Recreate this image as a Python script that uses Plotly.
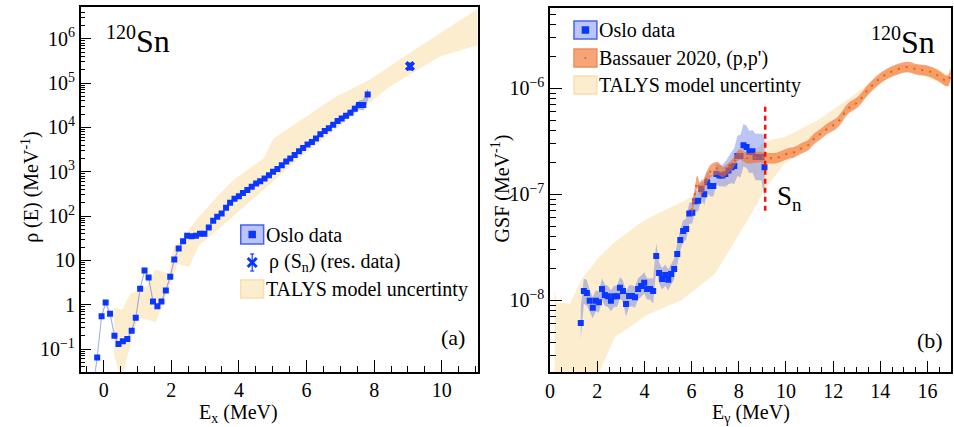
import plotly.graph_objects as go

# ---------------- Left panel: level density ----------------
rho_E = [-0.32, -0.19, -0.06, 0.06, 0.19, 0.32, 0.44, 0.57, 0.70, 0.83, 0.95,
         1.08, 1.21, 1.33, 1.46, 1.59, 1.71, 1.84, 1.97, 2.09, 2.22,
         2.35, 2.47, 2.60, 2.73, 2.85, 2.98, 3.11, 3.24, 3.36, 3.49,
         3.62, 3.74, 3.87, 4.00, 4.12, 4.25, 4.38, 4.51, 4.63, 4.76,
         4.89, 5.01, 5.14, 5.27, 5.40, 5.52, 5.65, 5.78, 5.90, 6.03,
         6.16, 6.28, 6.41, 6.54, 6.66, 6.79, 6.92, 7.04, 7.17, 7.30,
         7.43, 7.55, 7.68, 7.81]
rho_val = [0.012, 0.065, 0.55, 1.12, 0.63, 0.20, 0.13, 0.15, 0.17, 0.26, 0.51,
           2.3, 5.9, 4.1, 1.19, 0.92, 1.19, 2.1, 4.3, 10.5, 18.5,
           27, 36, 35, 36, 40, 40, 55, 78, 97, 114,
           155, 200, 247, 280, 330, 390, 460, 540, 610, 700,
           830, 1000, 1150, 1400, 1700, 2000, 2400, 2900, 3450, 4100,
           4700, 5600, 7000, 8300, 9600, 11500, 14000, 15800, 18300, 21500,
           26500, 32000, 32000, 55000]
rho_err_dex = [0.02] * 51 + \
              [0.025, 0.025, 0.03, 0.03, 0.03, 0.035, 0.04, 0.045, 0.05, 0.06,
               0.07, 0.09, 0.12, 0.12]

rhoSn_E = [9.06]
rhoSn_val = [2.4e5]
rhoSn_err = [4.0e4]

talysL_up_E = [0.31, 0.55, 0.79, 1.04, 1.28, 1.53, 1.92, 2.07, 2.26, 2.78, 3.36,
               3.85, 4.74, 5.02, 6.79, 7.87, 9.93, 11.05]
talysL_up = [0.85, 0.78, 1.8, 2.2, 2.6, 6.2, 5.1, 20, 27, 89, 275,
             660, 2040, 5600, 45700, 1.2e5, 1.32e6, 4.6e6]
talysL_lo_E = [0.31, 0.52, 0.81, 1.01, 1.55, 1.89, 2.19, 2.53, 2.82, 3.46,
               5.91, 8.46, 9.93, 10.9, 11.05]
talysL_lo = [0.072, 0.02, 0.13, 0.52, 0.41, 2.1, 8.3, 7.1, 22, 56,
             2400, 83000, 3.9e5, 6.6e5, 7.0e5]

# ---------------- Right panel: gamma strength ----------------
gsf_E = [1.30, 1.43, 1.56, 1.68, 1.81, 1.94, 2.07, 2.20, 2.32, 2.45,
         2.58, 2.71, 2.84, 2.96, 3.09, 3.22, 3.35, 3.47, 3.60, 3.73,
         3.86, 3.99, 4.11, 4.24, 4.37, 4.50, 4.62, 4.75, 4.88, 5.01,
         5.13, 5.26, 5.39, 5.52, 5.64, 5.77, 5.90, 6.03, 6.15, 6.28,
         6.41, 6.54, 6.66, 6.79, 6.92, 7.05, 7.18, 7.30, 7.43, 7.56,
         7.69, 7.81, 7.94, 8.07, 8.20, 8.33, 8.45, 8.58, 8.71, 8.84,
         8.96, 9.09]
gsf_val = [6.1e-9, 1.22e-8, 1.17e-8, 9.9e-9, 8.5e-9, 9.9e-9, 9.6e-9, 1.28e-8, 1.12e-8, 1.09e-8,
           9.9e-9, 1.09e-8, 1.09e-8, 1.31e-8, 1.22e-8, 9.2e-9, 1.1e-8, 1.1e-8, 1.07e-8, 1.28e-8,
           1.36e-8, 1.46e-8, 1.28e-8, 1.28e-8, 1.22e-8, 2.62e-8, 1.81e-8, 1.59e-8, 1.73e-8, 1.56e-8,
           1.77e-8, 1.97e-8, 2.73e-8, 3.71e-8, 4.5e-8, 4.7e-8, 6.6e-8, 6.7e-8, 8.6e-8, 8.7e-8,
           1.12e-7, 1.0e-7, 1.3e-7, 1.2e-7, 1.2e-7, 1.55e-7, 1.5e-7, 1.5e-7, 1.55e-7, 1.68e-7,
           1.8e-7, 1.85e-7, 2.3e-7, 2.3e-7, 2.9e-7, 2.8e-7, 2.5e-7, 2.55e-7, 2.25e-7, 2.25e-7,
           2.25e-7, 1.8e-7]
gsf_err_dex = [0.15, 0.12, 0.12, 0.1, 0.1, 0.1, 0.1, 0.1, 0.1, 0.1,
               0.1, 0.1, 0.1, 0.1, 0.1, 0.12, 0.1, 0.1, 0.1, 0.1,
               0.1, 0.1, 0.1, 0.1, 0.12, 0.12, 0.1, 0.1, 0.1, 0.1,
               0.1, 0.1, 0.1, 0.1, 0.1, 0.1, 0.1, 0.1, 0.1, 0.1,
               0.1, 0.1, 0.1, 0.1, 0.1, 0.1, 0.1, 0.1, 0.12, 0.13,
               0.15, 0.17, 0.19, 0.2, 0.2, 0.2, 0.2, 0.2, 0.22, 0.22,
               0.22, 0.3]

bass_E = [6.00, 6.12, 6.24, 6.36, 6.48, 6.62, 6.84, 7.12, 7.33, 7.54,
          7.75, 8.03, 8.32, 8.60, 8.88, 9.16, 9.59, 10.08, 10.36, 10.64,
          10.93, 11.20, 11.49, 11.77, 12.20, 12.62, 13.04, 13.46, 13.89, 14.31,
          14.73, 15.15, 15.58, 16.00, 16.42, 16.85, 16.97]
bass_val = [7.0e-8, 9.5e-8, 1.3e-7, 1.12e-7, 1.18e-7, 1.4e-7, 1.68e-7, 1.75e-7, 1.62e-7, 1.75e-7,
            1.95e-7, 2.37e-7, 2.2e-7, 2.2e-7, 2.25e-7, 2.2e-7, 2.2e-7, 2.42e-7, 2.5e-7, 2.7e-7,
            2.9e-7, 3.35e-7, 3.73e-7, 4.17e-7, 4.8e-7, 6.4e-7, 7.4e-7, 9.6e-7, 1.19e-6, 1.38e-6,
            1.51e-6, 1.59e-6, 1.5e-6, 1.46e-6, 1.33e-6, 1.17e-6, 1.35e-6]
bass_err_dex = [0.06] * 8 + [0.05] * 29

talysR_up_E = [0.19, 0.30, 0.85, 1.34, 2.10, 2.75, 3.74, 4.20, 5.70, 7.00, 8.50,
               9.10, 9.94, 11.35, 12.76, 14.17, 14.73, 15.50, 16.42, 17.00]
talysR_up = [1.26e-8, 9.5e-9, 9.3e-9, 1.58e-8, 2.6e-8, 3.55e-8, 5.2e-8, 6.0e-8, 8.7e-8, 1.32e-7, 2.4e-7,
             3.16e-7, 3.47e-7, 5.0e-7, 8.3e-7, 1.43e-6, 1.66e-6, 1.66e-6, 1.55e-6, 1.29e-6]
talysR_lo_E = [0.19, 2.05, 2.75, 4.16, 5.57, 6.98, 8.53, 9.09, 9.94, 11.35,
               12.76, 14.17, 14.90, 15.58, 17.00]
talysR_lo = [1.0e-9, 2.0e-9, 4.5e-9, 7.4e-9, 1.0e-8, 1.76e-8, 6.5e-8, 1.1e-7, 1.95e-7, 3.47e-7,
             6.2e-7, 1.19e-6, 1.43e-6, 1.38e-6, 1.02e-6]

sn_E = 9.12
sn_line_y = [7.0e-8, 6.7e-7]

# legend labels
legL_labels = ["Oslo data", "ρ (S<sub>n</sub>) (res. data)", "TALYS model uncertinty"]
legR_labels = ["Oslo data", "Bassauer 2020, (p,p')", "TALYS model uncertinty"]

# ---------------- styling ----------------
FONT = "Liberation Serif, Times New Roman, Times, serif"
FS = 20
BLUE = "rgb(10,55,255)"
BAND_BLUE = "rgba(60,90,230,0.35)"
BEIGE = "rgb(253,237,207)"
BEIGE_EDGE = "rgb(250,222,175)"
ORANGE_BAND = "rgba(240,110,40,0.62)"
ORANGE_DOT = "rgb(235,95,20)"
W, H = 954, 427


def band(xs, lo, hi):
    return list(xs) + list(xs)[::-1], list(hi) + list(lo)[::-1]


fig = go.Figure()

# Left: TALYS band
fig.add_trace(go.Scatter(
    x=talysL_up_E + talysL_lo_E[::-1], y=talysL_up + talysL_lo[::-1],
    fill="toself", fillcolor=BEIGE, line=dict(width=0), mode="lines",
    hoverinfo="skip", showlegend=False, xaxis="x", yaxis="y"))
# Left: Oslo band
hi = [v * 10 ** e for v, e in zip(rho_val, rho_err_dex)]
lo = [v / 10 ** e for v, e in zip(rho_val, rho_err_dex)]
bx, by = band(rho_E, lo, hi)
fig.add_trace(go.Scatter(x=bx, y=by, fill="toself", fillcolor=BAND_BLUE,
                         line=dict(width=1, color="rgba(60,90,230,0.25)"), mode="lines",
                         hoverinfo="skip", showlegend=False, xaxis="x", yaxis="y"))
fig.add_trace(go.Scatter(x=rho_E, y=rho_val, mode="markers",
                         marker=dict(symbol="square", size=6, color=BLUE),
                         showlegend=False, xaxis="x", yaxis="y"))
fig.add_trace(go.Scatter(x=rhoSn_E, y=rhoSn_val, mode="markers",
                         marker=dict(symbol="x", size=9, color=BLUE),
                         error_y=dict(type="data", array=rhoSn_err, color=BLUE, thickness=1.5, width=3),
                         showlegend=False, xaxis="x", yaxis="y"))

# Right: TALYS band
fig.add_trace(go.Scatter(
    x=talysR_up_E + talysR_lo_E[::-1], y=talysR_up + talysR_lo[::-1],
    fill="toself", fillcolor=BEIGE, line=dict(width=0), mode="lines",
    hoverinfo="skip", showlegend=False, xaxis="x2", yaxis="y2"))
# Right: Oslo band + points
hi = [v * 10 ** e for v, e in zip(gsf_val, gsf_err_dex)]
lo = [v / 10 ** e for v, e in zip(gsf_val, gsf_err_dex)]
bx, by = band(gsf_E, lo, hi)
fig.add_trace(go.Scatter(x=bx, y=by, fill="toself", fillcolor=BAND_BLUE,
                         line=dict(width=0), mode="lines",
                         hoverinfo="skip", showlegend=False, xaxis="x2", yaxis="y2"))
fig.add_trace(go.Scatter(x=gsf_E, y=gsf_val, mode="markers",
                         marker=dict(symbol="square", size=6, color=BLUE),
                         showlegend=False, xaxis="x2", yaxis="y2"))
# Right: Bassauer band + dotted centre
hi = [v * 10 ** e for v, e in zip(bass_val, bass_err_dex)]
lo = [v / 10 ** e for v, e in zip(bass_val, bass_err_dex)]
bx, by = band(bass_E, lo, hi)
fig.add_trace(go.Scatter(x=bx, y=by, fill="toself", fillcolor=ORANGE_BAND,
                         line=dict(width=0), mode="lines", line_shape="spline",
                         hoverinfo="skip", showlegend=False, xaxis="x2", yaxis="y2"))
fig.add_trace(go.Scatter(x=bass_E, y=bass_val, mode="lines", line_shape="spline",
                         line=dict(color=ORANGE_DOT, width=2, dash="2px,6px"),
                         showlegend=False, xaxis="x2", yaxis="y2"))
# Sn line
fig.add_trace(go.Scatter(x=[sn_E, sn_E], y=sn_line_y, mode="lines",
                         line=dict(color="rgb(235,20,20)", width=2.5, dash="5px,4px"),
                         showlegend=False, xaxis="x2", yaxis="y2"))


# ---------- axes ----------
def sup(k):
    return "10<sup>" + (str(k) if k >= 0 else "\u2212" + str(-k)) + "</sup>"


left_y_ticks = [10.0 ** k for k in range(-1, 7)]
left_y_text = [sup(-1), "1", "10"] + [sup(k) for k in range(2, 7)]
left_y_minor = [m * 10.0 ** k for k in range(-2, 7) for m in range(2, 10)]
right_y_ticks = [1e-8, 1e-7, 1e-6]
right_y_text = [sup(-8), sup(-7), sup(-6)]
right_y_minor = [m * 10.0 ** k for k in range(-9, -5) for m in range(2, 10)]

tickfont = dict(family=FONT, size=FS, color="black")
common = dict(showline=True, linecolor="black", linewidth=1.5, mirror=True,
              ticks="inside", tickcolor="black", tickwidth=1.2, showgrid=False,
              zeroline=False, tickfont=tickfont)

fig.update_layout(
    width=W, height=H, margin=dict(l=0, r=0, t=0, b=0),
    plot_bgcolor="white", paper_bgcolor="white", showlegend=False,
    font=dict(family=FONT, size=FS, color="black"),
    xaxis=dict(domain=[0.0797, 0.498], anchor="y", range=[-0.68, 11.06],
               tickvals=[0, 2, 4, 6, 8, 10], ticklen=12,
               minor=dict(dtick=0.5, tick0=0, ticks="inside", ticklen=6, tickcolor="black"),
               **common),
    yaxis=dict(domain=[0.1295, 0.983], anchor="x", type="log", range=[-1.51, 6.71],
               tickmode="array", tickvals=left_y_ticks, ticktext=left_y_text, ticklen=11,
               minor=dict(tickmode="array", tickvals=left_y_minor, ticks="inside",
                          ticklen=5, tickcolor="black"),
               **common),
    xaxis2=dict(domain=[0.5744, 0.9969], anchor="y2", range=[0, 17],
                tickvals=list(range(0, 17, 2)), ticklen=12,
                minor=dict(dtick=0.5, tick0=0, ticks="inside", ticklen=6, tickcolor="black"),
                **common),
    yaxis2=dict(domain=[0.128, 0.9806], anchor="x2", type="log", range=[-8.68, -5.245],
                tickmode="array", tickvals=right_y_ticks, ticktext=right_y_text, ticklen=12,
                minor=dict(tickmode="array", tickvals=right_y_minor, ticks="inside",
                           ticklen=6, tickcolor="black"),
                **common),
)


def px(x):
    return x / W


def py(y):
    return 1 - y / H


def text(t, x, y, size=FS, angle=0, xanchor="center"):
    fig.add_annotation(text=t, x=px(x), y=py(y), xref="paper", yref="paper", showarrow=False,
                       xanchor=xanchor, yanchor="middle", textangle=angle,
                       font=dict(family=FONT, size=size, color="black"))


def rect(x0, y0, x1, y1, fill, edge):
    fig.add_shape(type="rect", xref="paper", yref="paper", x0=px(x0), x1=px(x1), y0=py(y0), y1=py(y1),
                  fillcolor=fill, line=dict(color=edge, width=1.5))


def seg(x0, y0, x1, y1, color, width):
    fig.add_shape(type="line", xref="paper", yref="paper", x0=px(x0), x1=px(x1), y0=py(y0), y1=py(y1),
                  line=dict(color=color, width=width))


SN_LABEL = "<sup><span style='font-size:20px'>120</span></sup>Sn"

# axis titles and labels
text("E<sub>x</sub> (MeV)", 235, 413)
text("E<sub>γ</sub> (MeV)", 750, 413)
text("ρ (E) (MeV<sup>-1</sup>)", 25, 187, angle=-90)
text("GSF (MeV<sup>-1</sup>)", 498, 188, angle=-90)
text(SN_LABEL, 134, 40, size=32)
text(SN_LABEL, 903, 41, size=32)
text("(a)", 450, 337, size=22)
text("(b)", 930, 340, size=22)
text("S<sub>n</sub>", 789, 198, size=27)

# left legend (drawn)
rect(237, 225, 260, 244, "rgba(60,90,230,0.35)", "rgb(70,100,240)")
rect(245.5, 231.5, 251.5, 237.5, BLUE, BLUE)
text(legL_labels[0], 260, 235, xanchor="left")
seg(244, 258, 253, 267, BLUE, 3)
seg(244, 267, 253, 258, BLUE, 3)
seg(248.5, 254, 248.5, 271, BLUE, 1.2)
seg(246.5, 254, 250.5, 254, BLUE, 1.2)
seg(246.5, 271, 250.5, 271, BLUE, 1.2)
text(legL_labels[1], 263, 262, xanchor="left")
rect(237, 280, 260, 298, BEIGE, BEIGE_EDGE)
text(legL_labels[2], 260, 289, xanchor="left")

# right legend (drawn)
rect(572, 21, 595, 39, "rgba(60,90,230,0.35)", "rgb(70,100,240)")
rect(580.5, 27, 586.5, 33, BLUE, BLUE)
text(legR_labels[0], 595, 30, xanchor="left")
rect(572, 49, 595, 67, ORANGE_BAND, "rgb(240,140,90)")
fig.add_shape(type="circle", xref="paper", yref="paper", x0=px(582.5), x1=px(584.5),
              y0=py(57), y1=py(59), fillcolor=ORANGE_DOT, line=dict(width=0))
text(legR_labels[1], 595, 58, xanchor="left")
rect(572, 76, 595, 94, BEIGE, BEIGE_EDGE)
text(legR_labels[2], 595, 85, xanchor="left")

fig.write_html("out.html")
